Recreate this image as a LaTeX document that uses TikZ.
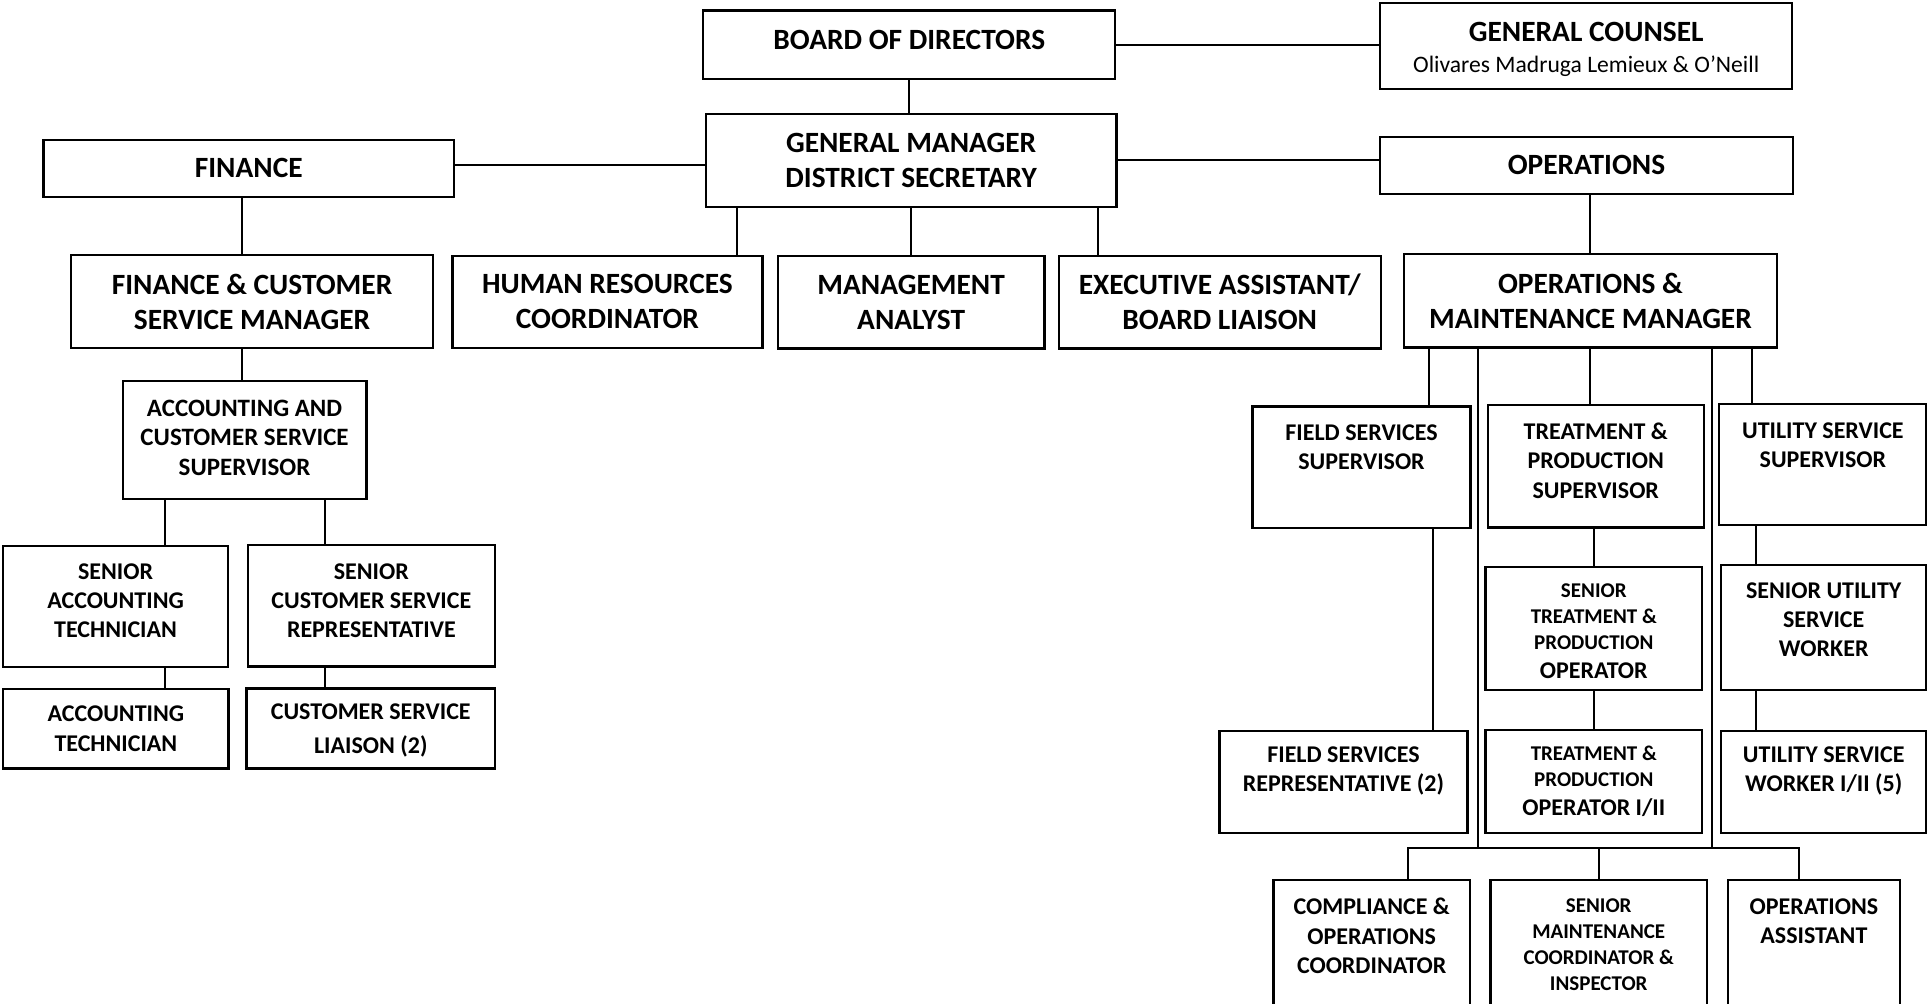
\documentclass[tikz,border=0pt]{standalone}
\usepackage{fontspec}
\setmainfont{Carlito}
\usetikzlibrary{fit}

\tikzset{
  box/.style={draw, line width=1.15pt, inner sep=0pt},
  link/.style={line width=1pt},
  lbl/.style={align=center, inner sep=0pt},
  big/.style={font=\bfseries\fontsize{14.7}{17.5}\selectfont},
  med/.style={font=\bfseries\fontsize{12}{14.6}\selectfont},
  sml/.style={font=\bfseries\fontsize{10.5}{13}\selectfont},
}

\begin{document}
\begin{tikzpicture}[x=0.6148pt, y=-0.6148pt]
    \useasboundingbox (0,0) rectangle (1568,816);
    \clip (0,0) rectangle (1568,816);

    % top of the chart
    \node[box, fit={(572,8.5) (907,64)}] (bod) {};
    \node[lbl, big] (bodt) at (739.5,32.5) {BOARD OF DIRECTORS};
    \node[box, fit={(1122.5,2.2) (1457.5,72.6)}] (gc) {};
    \node[lbl, big] (gct) at (1290,40.4) {GENERAL COUNSEL\\[-2pt]{\mdseries\fontsize{11.8}{14}\selectfont Olivares Madruga Lemieux \& O’Neill}};
    \node[box, fit={(574,92.7) (908,168.3)}] (gm) {};
    \node[lbl, big] (gmt) at (gm) {GENERAL MANAGER\\DISTRICT SECRETARY};
    \node[box, fit={(35.3,113.9) (369.3,160)}] (fin) {};
    \node[lbl, big] (fint) at (fin) {FINANCE};
    \node[box, fit={(1122.5,111.2) (1458,157.8)}] (ops) {};
    \node[lbl, big] (opst) at (ops) {OPERATIONS};

    % second row
    \node[box, fit={(58,207.4) (352,283)}] (fcsm) {};
    \node[lbl, big] (fcsmt) at (fcsm) {FINANCE \& CUSTOMER\\SERVICE MANAGER};
    \node[box, fit={(368,208) (620,283)}] (hr) {};
    \node[lbl, big] (hrt) at (hr) {HUMAN RESOURCES\\COORDINATOR};
    \node[box, fit={(632.5,208) (849.5,283.5)}] (ma) {};
    \node[lbl, big] (mat) at (ma) {MANAGEMENT\\ANALYST};
    \node[box, fit={(861,208) (1123,283.5)}] (ea) {};
    \node[lbl, big] (eat) at (ea) {EXECUTIVE ASSISTANT/\\BOARD LIAISON};
    \node[box, fit={(1142,206.6) (1445,282.5)}] (omm) {};
    \node[lbl, big] (ommt) at (omm) {OPERATIONS \&\\MAINTENANCE MANAGER};

    % finance side
    \node[box, fit={(99.8,309.6) (298,405.8)}] (acs) {};
    \node[lbl, med, font=\bfseries\fontsize{12.5}{14.6}\selectfont] (acst) at (198.9,356) {ACCOUNTING AND\\CUSTOMER SERVICE\\SUPERVISOR};
    \node[box, fit={(2.7,443.8) (185.5,542.2)}] (sat) {};
    \node[lbl, med] (satt) at (94,488.7) {SENIOR\\ACCOUNTING\\TECHNICIAN};
    \node[box, fit={(201.5,443.5) (402.5,542)}] (scsr) {};
    \node[lbl, med] (scsrt) at (302,488.7) {SENIOR\\CUSTOMER SERVICE\\REPRESENTATIVE};
    \node[box, fit={(2.7,560.4) (185.8,625)}] (at) {};
    \node[lbl, med] (att) at (at) {ACCOUNTING\\TECHNICIAN};
    \node[box, fit={(200.5,560) (402.5,625)}] (csl) {};
    \node[lbl, med] (cslt) at (301.5,594) {CUSTOMER SERVICE\\[2pt]LIAISON (2)};

    % operations side
    \node[box, fit={(1018.6,330.7) (1196,429.2)}] (fss) {};
    \node[lbl, med] (fsst) at (1107.3,363.7) {FIELD SERVICES\\SUPERVISOR};
    \node[box, fit={(1210,329.4) (1385.6,428.9)}] (tps) {};
    \node[lbl, med] (tpst) at (1297.8,374.6) {TREATMENT \&\\PRODUCTION\\SUPERVISOR};
    \node[box, fit={(1398,328.6) (1566.5,427)}] (uss) {};
    \node[lbl, med] (usst) at (1482.5,361.9) {UTILITY SERVICE\\SUPERVISOR};

    \node[box, fit={(1208,461) (1384.4,561.2)}] (stpo) {};
    \node[lbl, sml] (stpot) at (1296.2,513.7) {SENIOR\\TREATMENT \&\\PRODUCTION\\[1.5pt]{\fontsize{12}{14.6}\selectfont OPERATOR}};
    \node[box, fit={(1399.6,459.5) (1566.5,561.2)}] (susw) {};
    \node[lbl, med] (suswt) at (1483.2,504.2) {SENIOR UTILITY\\SERVICE\\WORKER};

    \node[box, fit={(991.8,594.3) (1193.4,677.2)}] (fsr) {};
    \node[lbl, med] (fsrt) at (1092.6,626.9) {FIELD SERVICES\\REPRESENTATIVE (2)};
    \node[box, fit={(1208,593.7) (1384.4,677.2)}] (tpo) {};
    \node[lbl, sml] (tpot) at (tpo) {TREATMENT \&\\PRODUCTION\\[1.5pt]{\fontsize{12}{14.6}\selectfont OPERATOR I/II}};
    \node[box, fit={(1399.6,594.3) (1566.5,677.7)}] (usw) {};
    \node[lbl, med] (uswt) at (1483.2,626.9) {UTILITY SERVICE\\WORKER I/II (5)};

    \node[box, fit={(1035.6,715.7) (1195.7,830)}] (coc) {};
    \node[lbl, med] (coct) at (1115.6,761.1) {COMPLIANCE \&\\OPERATIONS\\COORDINATOR};
    \node[box, fit={(1212.3,715.7) (1388.2,830)}] (smci) {};
    \node[lbl, sml] (smcit) at (1300.2,767.9) {SENIOR\\MAINTENANCE\\COORDINATOR \&\\INSPECTOR};
    \node[box, fit={(1405.2,715.7) (1545.2,830)}] (oa) {};
    \node[lbl, med] (oat) at (1475.2,749.3) {OPERATIONS\\ASSISTANT};

    % where the lines drop
    \coordinate (xfin) at (197,0);
    \coordinate (xhr) at (599,0);
    \coordinate (xea) at (893,0);
    \coordinate (xsat) at (134,0);
    \coordinate (xscsr) at (264,0);
    \coordinate (xfss) at (1162,0);
    \coordinate (xlongl) at (1201.7,0);
    \coordinate (xlongr) at (1392,0);
    \coordinate (xuss) at (1424.5,0);
    \coordinate (xfsr) at (1165.5,0);
    \coordinate (xtp) at (1296.5,0);
    \coordinate (xus) at (1428.3,0);
    \coordinate (xcoc) at (1145,0);
    \coordinate (xoa) at (1463,0);
    \coordinate (yfg) at (0,134.2);
    \coordinate (bus) at (0,690);

    \draw[link] (bod.east) -- (bod.east -| gc.west);
    \draw[link] (bod.south) -- (bod.south |- gm.north);
    \draw[link] (fin.east |- yfg) -- (gm.west |- yfg);
    \draw[link] (gm.east) -- (gm.east -| ops.west);

    \draw[link] (xfin |- fin.south) -- (xfin |- fcsm.north);
    \draw[link] (xhr |- gm.south) -- (xhr |- hr.north);
    \draw[link] (ma.north) -- (ma.north |- gm.south);
    \draw[link] (xea |- gm.south) -- (xea |- ea.north);
    \draw[link] (omm.north) -- (omm.north |- ops.south);

    \draw[link] (xfin |- fcsm.south) -- (xfin |- acs.north);
    \draw[link] (xsat |- acs.south) -- (xsat |- sat.north);
    \draw[link] (xscsr |- acs.south) -- (xscsr |- scsr.north);
    \draw[link] (xsat |- sat.south) -- (xsat |- at.north);
    \draw[link] (xscsr |- scsr.south) -- (xscsr |- csl.north);

    \draw[link] (xfss |- omm.south) -- (xfss |- fss.north);
    \draw[link] (omm.south) -- (omm.south |- tps.north);
    \draw[link] (xuss |- omm.south) -- (xuss |- uss.north);
    \draw[link] (xfsr |- fss.south) -- (xfsr |- fsr.north);
    \draw[link] (xtp |- tps.south) -- (xtp |- stpo.north);
    \draw[link] (xtp |- stpo.south) -- (xtp |- tpo.north);
    \draw[link] (xus |- uss.south) -- (xus |- susw.north);
    \draw[link] (xus |- susw.south) -- (xus |- usw.north);

    \draw[link] (xlongl |- omm.south) -- (xlongl |- bus);
    \draw[link] (xlongr |- omm.south) -- (xlongr |- bus);
    \draw[link] (xcoc |- coc.north) |- (xoa |- bus) -- (xoa |- oa.north);
    \draw[link] (smci.north) -- (smci.north |- bus);
\end{tikzpicture}
\end{document}
